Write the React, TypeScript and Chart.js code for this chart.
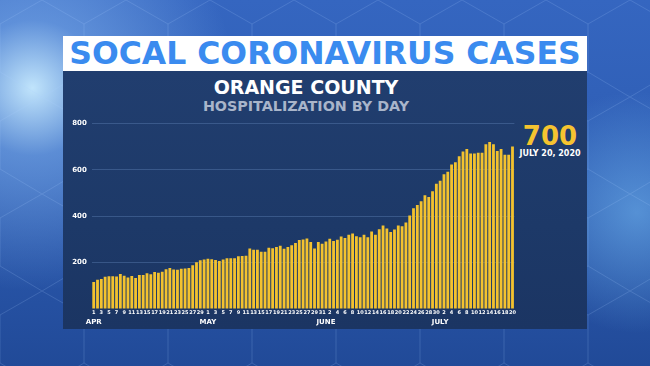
import React, { useEffect, useRef } from "react";
import { Chart, registerables } from "chart.js";

Chart.register(...registerables);

// ---- data ----
const monthNames = ["APR", "MAY", "JUNE", "JULY"];
const monthLengths = [30, 31, 30, 20];

const aprilValues = [116, 126, 129, 139, 141, 141, 140, 151, 143, 136, 142, 134, 147, 146, 154, 150, 159, 156, 161, 171, 177, 170, 169, 173, 175, 177, 188, 201, 210, 213];
const mayValues = [217, 214, 211, 207, 213, 219, 219, 219, 227, 228, 229, 261, 255, 255, 247, 247, 264, 262, 267, 273, 260, 267, 275, 284, 297, 299, 304, 289, 261, 289, 281];
const juneValues = [291, 303, 293, 298, 312, 306, 320, 325, 313, 309, 320, 309, 334, 320, 344, 360, 347, 332, 343, 360, 357, 373, 403, 434, 448, 464, 490, 483, 507, 540];
const julyValues = [553, 581, 591, 622, 632, 658, 678, 689, 670, 670, 673, 673, 710, 719, 710, 681, 689, 664, 664, 700];

const yTickValues = [200, 400, 600, 800];

const titleText = "SOCAL CORONAVIRUS CASES";
const countyText = "ORANGE COUNTY";
const subtitleText = "HOSPITALIZATION BY DAY";
const latestValueText = "700";
const latestDateText = "JULY 20, 2020";

const hospitalizations = [...aprilValues, ...mayValues, ...juneValues, ...julyValues];

const dayLabels: string[] = [];
const monthOfDay: string[] = [];
monthLengths.forEach((len, m) => {
  for (let d = 1; d <= len; d++) {
    dayLabels.push(String(d));
    monthOfDay.push(d === 1 ? monthNames[m] : "");
  }
});

const FONT = "'DejaVu Sans', sans-serif";

const hexSvg =
  "data:image/svg+xml;utf8," +
  encodeURIComponent(
    `<svg xmlns='http://www.w3.org/2000/svg' width='84' height='97' viewBox='0 0 84 97'><g fill='none' stroke='rgba(170,205,255,0.22)' stroke-width='1'><path d='M42 0 L84 24 L84 72 L42 97 L0 72 L0 24 Z'/></g></svg>`
  );

export default function App() {
  const canvasRef = useRef<HTMLCanvasElement | null>(null);

  useEffect(() => {
    const canvas = canvasRef.current;
    if (!canvas) return;
    const chart = new Chart(canvas, {
      type: "bar",
      data: {
        labels: dayLabels,
        datasets: [
          {
            data: hospitalizations,
            backgroundColor: "#f3c22f",
            borderWidth: 0,
            barPercentage: 0.74,
            categoryPercentage: 1,
            xAxisID: "x",
            yAxisID: "y",
          },
        ],
      },
      options: {
        responsive: false,
        animation: false,
        events: [],
        layout: { padding: { left: 70.8, right: 135.6, top: 123.3, bottom: 36 } },
        plugins: { legend: { display: false }, tooltip: { enabled: false } },
        scales: {
          x: {
            type: "category",
            position: "bottom",
            weight: 0,
            offset: true,
            grid: { display: false, drawTicks: false },
            border: { display: false },
            ticks: {
              autoSkip: false,
              maxRotation: 0,
              minRotation: 0,
              padding: 1,
              color: "#ffffff",
              font: { family: FONT, weight: "bold", size: 5 },
              callback: (_v: any, i: number) => (i % 2 === 0 ? dayLabels[i] : ""),
            },
            afterFit: (s: any) => {
              s.height = 9;
            },
          },
          x2: {
            type: "category",
            position: "bottom",
            weight: 1,
            offset: true,
            grid: { display: false, drawTicks: false },
            border: { display: false },
            ticks: {
              autoSkip: false,
              maxRotation: 0,
              minRotation: 0,
              padding: 0,
              color: "#ffffff",
              font: { family: FONT, weight: "bold", size: 7 },
              callback: (_v: any, i: number) => monthOfDay[i],
            },
            afterFit: (s: any) => {
              s.height = 12;
            },
          },
          y: {
            min: 0,
            max: 800,
            position: "left",
            afterBuildTicks: (s: any) => {
              s.ticks = [0, ...yTickValues].map((v) => ({ value: v }));
            },
            grid: {
              color: (ctx: any) => (ctx.tick && ctx.tick.value === 0 ? "rgba(0,0,0,0)" : "rgba(105,140,195,0.36)"),
              drawTicks: false,
              lineWidth: 1,
            },
            border: { display: false },
            ticks: {
              padding: 5,
              color: "#ffffff",
              font: { family: FONT, weight: "bold", size: 7 },
              callback: (v: any) => (v === 0 ? "" : String(v)),
            },
            afterFit: (s: any) => {
              s.width = 21;
            },
          },
        },
      } as any,
    });
    return () => chart.destroy();
  }, []);

  return (
    <div
      style={{
        position: "fixed",
        left: 0,
        top: 0,
        width: 650,
        height: 366,
        overflow: "hidden",
        background:
          "radial-gradient(circle at 5% 24%, rgba(200,235,255,0.95) 0%, rgba(130,180,240,0.55) 10%, rgba(70,120,210,0) 30%), radial-gradient(circle at 98% 58%, rgba(120,190,245,0.55) 0%, rgba(70,120,210,0) 18%), linear-gradient(180deg, #3566c0 0%, #2d5cb2 50%, #214a98 100%)",
      }}
    >
      <div
        style={{
          position: "absolute",
          inset: 0,
          backgroundImage: `url("${hexSvg}")`,
          backgroundSize: "84px 97px",
          opacity: 0.8,
        }}
      />
      <div
        style={{
          position: "absolute",
          left: 63,
          top: 71,
          width: 524,
          height: 258,
          background: "linear-gradient(180deg, #213e6f 0%, #1d3968 60%, #1b3563 100%)",
        }}
      />
      <div
        style={{
          position: "absolute",
          left: 63,
          top: 36,
          width: 524,
          height: 35,
          background: "#ffffff",
          color: "#3a8bef",
          fontFamily: FONT,
          fontWeight: "bold",
          fontSize: 31.5,
          lineHeight: "35px",
          textAlign: "center",
          whiteSpace: "nowrap",
        }}
      >
        {titleText}
      </div>
      <div
        style={{
          position: "absolute",
          left: 63,
          width: 486,
          top: 76,
          textAlign: "center",
          color: "#ffffff",
          fontFamily: FONT,
          fontWeight: "bold",
          fontSize: 19,
          lineHeight: "22px",
          whiteSpace: "nowrap",
        }}
      >
        {countyText}
      </div>
      <div
        style={{
          position: "absolute",
          left: 63,
          width: 486,
          top: 97,
          textAlign: "center",
          color: "#a9b5ca",
          fontFamily: FONT,
          fontWeight: "bold",
          fontSize: 14.3,
          lineHeight: "18px",
          whiteSpace: "nowrap",
        }}
      >
        {subtitleText}
      </div>
      <div
        style={{
          position: "absolute",
          left: 515,
          width: 70,
          top: 121,
          textAlign: "center",
          color: "#f5c330",
          fontFamily: FONT,
          fontWeight: "bold",
          fontSize: 26,
          lineHeight: "30px",
        }}
      >
        {latestValueText}
      </div>
      <div
        style={{
          position: "absolute",
          left: 515,
          width: 70,
          top: 149,
          textAlign: "center",
          color: "#ffffff",
          fontFamily: FONT,
          fontWeight: "bold",
          fontSize: 8,
          lineHeight: "10px",
          whiteSpace: "nowrap",
        }}
      >
        {latestDateText}
      </div>
      <canvas
        ref={canvasRef}
        width={650}
        height={366}
        style={{ position: "absolute", left: 0, top: 0, width: 650, height: 366 }}
      />
    </div>
  );
}
